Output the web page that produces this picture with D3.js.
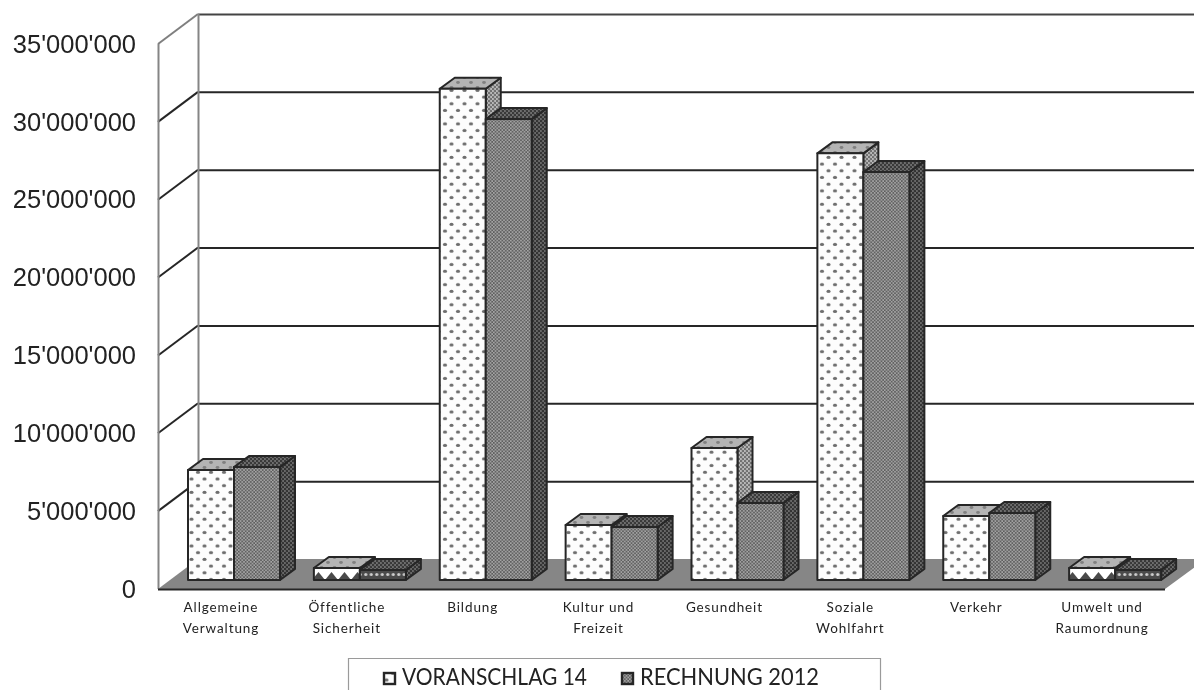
<!DOCTYPE html>
<html>
<head>
<meta charset="utf-8">
<script src="https://cdn.jsdelivr.net/npm/d3@7"></script>
<style>
html, body { margin: 0; padding: 0; background: #fff; overflow: hidden; }
svg { display: block; filter: blur(0.45px); }
</style>
</head>
<body>
<svg id="chart" width="1194" height="690"></svg>
<script>
var categories = [
    ['Allgemeine', 'Verwaltung'],
    ['Öffentliche', 'Sicherheit'],
    ['Bildung'],
    ['Kultur und', 'Freizeit'],
    ['Gesundheit'],
    ['Soziale', 'Wohlfahrt'],
    ['Verkehr'],
    ['Umwelt und', 'Raumordnung']
];
var voranschlag = [7060000, 770000, 31550000, 3530000, 8480000, 27400000, 4110000, 770000];
var rechnung = [7260000, 640000, 29600000, 3400000, 4950000, 26200000, 4300000, 640000];
var seriesNames = ['VORANSCHLAG 14', 'RECHNUNG 2012'];
var yTicks = [0, 5000000, 10000000, 15000000, 20000000, 25000000, 30000000, 35000000];

var svg = d3.select('#chart');
var defs = svg.append('defs');

var dark = '#262626';
var depthX = 40, depthY = 30;      // wall / floor depth
var barDX = 15, barDY = 11;        // bar depth
var barOffset = 9;                 // bar base sits in front of the back wall
var barW = 46;

var y = d3.scaleLinear().domain([0, 35000000]).range([589, 44]);
var x = d3.scaleBand().domain(d3.range(categories.length)).range([158, 1165]);
var fmt = d3.formatLocale({ decimal: '.', thousands: "'", grouping: [3], currency: ['', ''] }).format(',');

// fill patterns
function pattern(id, w, h, bg, draw) {
    var p = defs.append('pattern').attr('id', id).attr('patternUnits', 'userSpaceOnUse')
        .attr('width', w).attr('height', h);
    p.append('rect').attr('width', w).attr('height', h).attr('fill', bg);
    draw(p);
}
function dots(p, pts, r, color) {
    p.selectAll('ellipse').data(pts).enter().append('ellipse')
        .attr('cx', function (d) { return d[0]; })
        .attr('cy', function (d) { return d[1]; })
        .attr('rx', r + 0.5).attr('ry', r)
        .attr('fill', color);
}
pattern('front1', 13, 13.4, '#fdfdfd', function (p) { dots(p, [[3, 3.3], [9.5, 10]], 1.6, '#6e6e6e'); });
pattern('top1', 13, 10, '#b4b4b4', function (p) { dots(p, [[3, 2.5], [9.5, 7.5]], 1.4, '#808080'); });
pattern('side1', 4, 4, '#b8b8b8', function (p) { dots(p, [[1, 1], [3, 3]], 0.9, '#6a6a6a'); });
pattern('front2', 3.4, 3.4, '#a6a6a6', function (p) { dots(p, [[0.85, 0.85], [2.55, 2.55]], 0.7, '#444'); });
pattern('top2', 4, 4, '#6e6e6e', function (p) { dots(p, [[1, 1], [3, 3]], 0.9, '#333'); });
pattern('side2', 4, 4, '#686868', function (p) { dots(p, [[1, 1], [3, 3]], 0.9, '#2e2e2e'); });
// very low bars show only one row of the pattern
pattern('low1', 13, 29, '#fff', function (p) {
    p.append('path').attr('d', 'M0,29 L6.5,21 L13,29 Z').attr('fill', '#4a4a4a');
});
pattern('low2', 5.5, 29, '#4a4a4a', function (p) {
    p.append('circle').attr('cx', 2.75).attr('cy', 23.5).attr('r', 1.6).attr('fill', '#cfcfcf');
});

// walls
var walls = svg.append('g');
yTicks.forEach(function (t) {
    var top = t === 35000000;
    if (t > 0) {
        walls.append('line').attr('x1', 198).attr('x2', 1194)
            .attr('y1', y(t) - depthY + 0.5).attr('y2', y(t) - depthY + 0.5)
            .attr('stroke', top ? '#444' : dark).attr('stroke-width', 2);
        walls.append('line').attr('x1', 158).attr('x2', 198)
            .attr('y1', y(t)).attr('y2', y(t) - depthY)
            .attr('stroke', top ? '#7f7f7f' : dark).attr('stroke-width', 2);
    }
});
walls.append('line').attr('x1', 158.5).attr('x2', 158.5).attr('y1', y(35000000)).attr('y2', y(0))
    .attr('stroke', '#858585').attr('stroke-width', 2);
walls.append('line').attr('x1', 198.5).attr('x2', 198.5).attr('y1', y(35000000) - depthY).attr('y2', y(0) - depthY)
    .attr('stroke', '#858585').attr('stroke-width', 2);

// floor
var floor = [[158, y(0)], [1165, y(0)], [1206, y(0) - depthY], [198, y(0) - depthY]];
svg.append('polygon').attr('points', floor.join(' ')).attr('fill', '#868686');
svg.append('line').attr('x1', 158).attr('x2', 1165).attr('y1', y(0) + 0.5).attr('y2', y(0) + 0.5)
    .attr('stroke', dark).attr('stroke-width', 2);

// bars
var base = y(0) - barOffset;
function drawBar(g, left, value, s) {
    var h = y(0) - y(value);
    var top = base - h;
    var frontFill = h < 20 ? 'url(#low' + s + ')' : 'url(#front' + s + ')';
    var shape = g.append('g').attr('stroke', dark).attr('stroke-width', 2).attr('stroke-linejoin', 'round');
    shape.append('polygon')
        .attr('points', [[left + barW, top], [left + barW + barDX, top - barDY], [left + barW + barDX, base - barDY], [left + barW, base]].join(' '))
        .attr('fill', 'url(#side' + s + ')');
    shape.append('polygon')
        .attr('points', [[left, top], [left + barDX, top - barDY], [left + barW + barDX, top - barDY], [left + barW, top]].join(' '))
        .attr('fill', 'url(#top' + s + ')');
    shape.append('rect').attr('x', left).attr('y', top).attr('width', barW).attr('height', h)
        .attr('fill', frontFill);
}
var barsG = svg.append('g');
categories.forEach(function (c, i) {
    var left = x(i) + 30;
    drawBar(barsG, left, voranschlag[i], 1);
    drawBar(barsG, left + barW, rechnung[i], 2);
});

// y axis labels
var axis = svg.append('g').attr('transform', 'translate(136,0)')
    .call(d3.axisLeft(y).tickValues(yTicks).tickSize(0).tickPadding(0).tickFormat(fmt));
axis.select('.domain').remove();
axis.selectAll('text')
    .attr('font-family', '"Liberation Sans", sans-serif')
    .attr('font-size', 25.5)
    .attr('fill', '#222');

// category labels
var labelG = svg.append('g').attr('font-family', 'Lato, sans-serif').attr('font-size', 13.5)
    .attr('letter-spacing', 0.9).attr('fill', '#222').attr('text-anchor', 'middle');
categories.forEach(function (c, i) {
    c.forEach(function (line, j) {
        labelG.append('text')
            .attr('x', x(i) + x.bandwidth() / 2)
            .attr('y', 612 + j * 21)
            .text(line);
    });
});

// legend, cut off by the bottom edge of the picture
svg.append('path').attr('d', 'M348.5,692V658.5H880.5V692').attr('fill', 'none').attr('stroke', '#9a9a9a').attr('stroke-width', 1.2);
var legendX = [384, 622], legendLen = [185, 179];
seriesNames.forEach(function (name, i) {
    svg.append('rect').attr('x', legendX[i]).attr('y', 673).attr('width', 11).attr('height', 11)
        .attr('fill', 'url(#front' + (i + 1) + ')').attr('stroke', dark).attr('stroke-width', 2.4);
    svg.append('text').attr('x', legendX[i] + 18).attr('y', 684.8)
        .attr('font-family', 'Lato, sans-serif').attr('font-size', 23.5).attr('fill', '#222')
        .attr('textLength', legendLen[i]).attr('lengthAdjust', 'spacingAndGlyphs')
        .text(name);
});
</script>
</body>
</html>
